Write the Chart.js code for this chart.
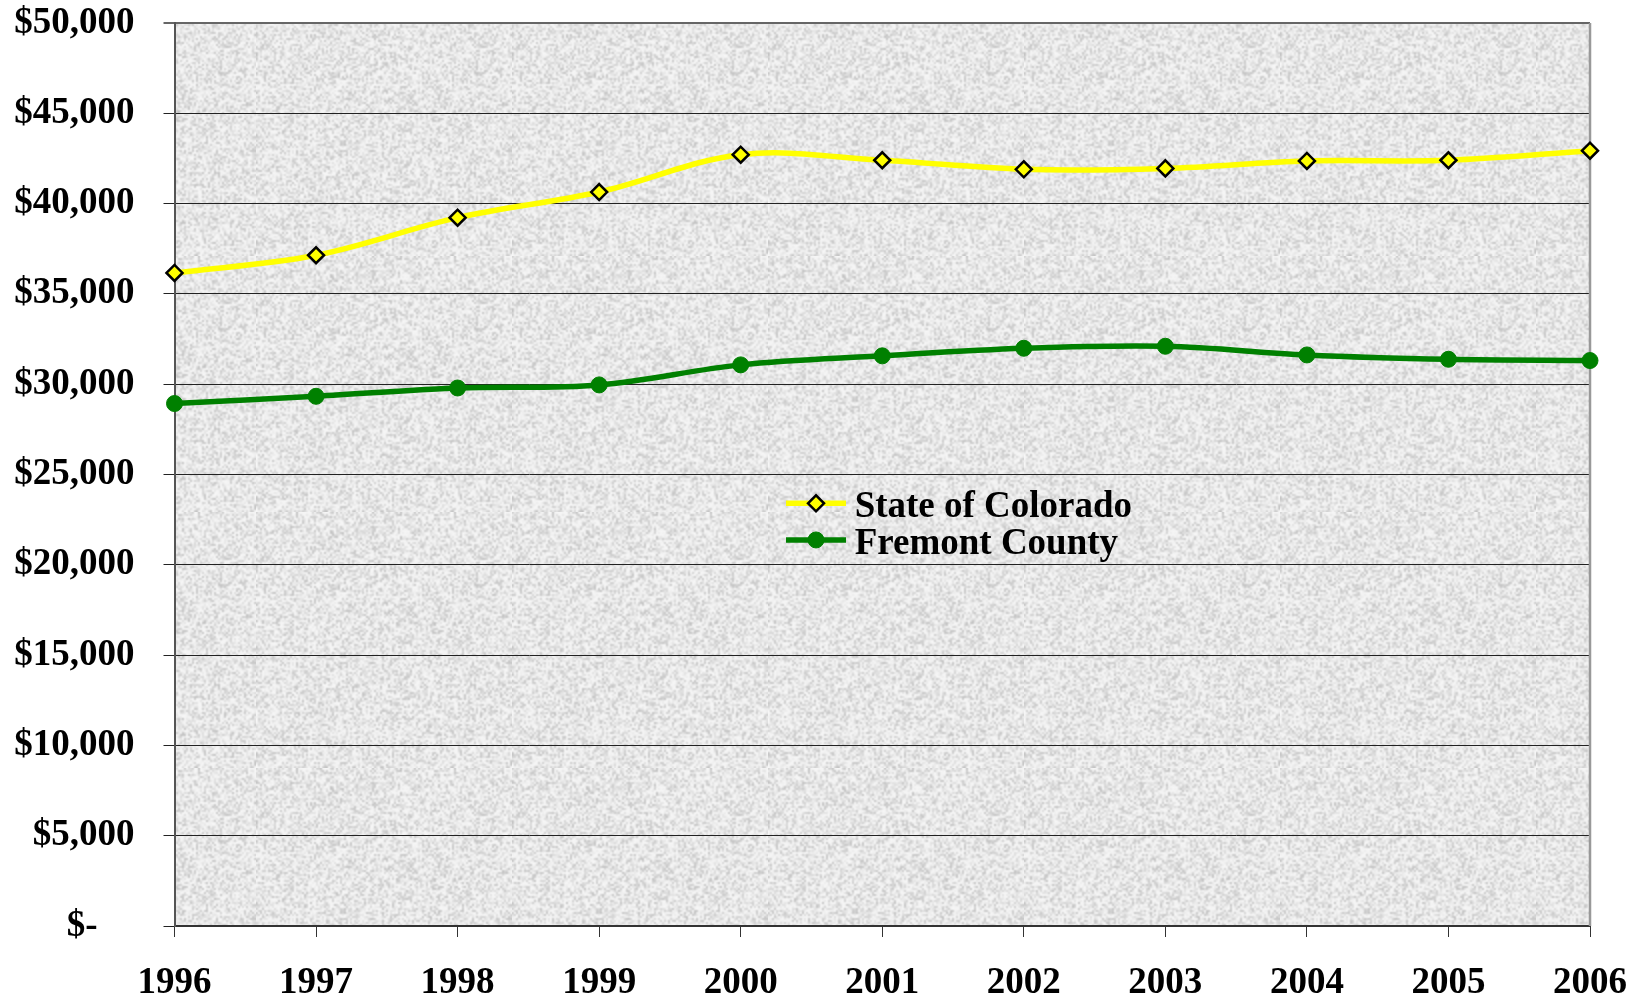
<!DOCTYPE html>
<html><head><meta charset="utf-8">
<script src="https://cdn.jsdelivr.net/npm/chart.js@4.4.1/dist/chart.umd.min.js"></script>
<style>html,body{margin:0;padding:0;background:#fff;}#wrap{width:1638px;height:1000px;position:relative;}</style>
</head><body><div id="wrap"><canvas id="c" width="1638" height="1000"></canvas></div>
<script>
const years = ['1996','1997','1998','1999','2000','2001','2002','2003','2004','2005','2006'];
const coloradoIncome = [36160, 37140, 39220, 40640, 42710, 42400, 41900, 41950, 42360, 42400, 42930];
const fremontIncome = [28930, 29330, 29790, 29960, 31070, 31570, 31990, 32100, 31620, 31380, 31310];
const seriesNames = ['State of Colorado', 'Fremont County'];
const yMin = 0, yMax = 50000, yStep = 5000;
const zeroLabel = '$-    ';

const FONT = "'Liberation Serif', 'Times New Roman', serif";

function makeTexture() {
  const N = 128;
  const small = document.createElement('canvas'); small.width = small.height = N;
  const g = small.getContext('2d'); const img = g.createImageData(N, N);
  let s = 98765;
  const rnd = () => { s = (s * 1103515245 + 12345) & 0x7fffffff; return s / 0x7fffffff; };
  for (let i = 0; i < N * N; i++) {
    const r = rnd();
    let v = 246 - r * r * 50;
    img.data[i*4] = img.data[i*4+1] = img.data[i*4+2] = v; img.data[i*4+3] = 255;
  }
  g.putImageData(img, 0, 0);
  const c = document.createElement('canvas'); c.width = c.height = N * 2;
  const g2 = c.getContext('2d');
  g2.imageSmoothingEnabled = true;
  g2.drawImage(small, 0, 0, N * 2, N * 2);
  return c;
}
const tex = makeTexture();

const plotPlugin = {
  id: 'plotDeco',
  beforeDraw(chart) {
    const { ctx, chartArea: a } = chart;
    ctx.save();
    ctx.fillStyle = ctx.createPattern(tex, 'repeat');
    ctx.fillRect(a.left, a.top, a.right - a.left, a.bottom - a.top);
    ctx.restore();
  },
  beforeDatasetsDraw(chart) {
    const { ctx, chartArea: a } = chart;
    ctx.save();
    ctx.strokeStyle = '#999'; ctx.lineWidth = 2.5;
    ctx.beginPath(); ctx.moveTo(a.right, a.top); ctx.lineTo(a.right, a.bottom); ctx.stroke();
    ctx.restore();
  },
  afterDatasetsDraw(chart) {
    const { ctx, chartArea: a } = chart;
    const w = a.right - a.left, h = a.bottom - a.top;
    const x0 = a.left + w * 0.432, x1 = a.left + w * 0.4744, tx = a.left + w * 0.4805;
    const rows = [a.top + h * 0.5319, a.top + h * 0.5725];
    ctx.save();
    chart.data.datasets.forEach((ds, i) => {
      const y = rows[i];
      ctx.strokeStyle = ds.borderColor; ctx.lineWidth = ds.borderWidth; ctx.lineCap = 'butt';
      ctx.beginPath(); ctx.moveTo(x0, y); ctx.lineTo(x1, y); ctx.stroke();
      ctx.fillStyle = ds.pointBackgroundColor; ctx.strokeStyle = ds.pointBorderColor;
      ctx.lineWidth = ds.pointBorderWidth;
      Chart.helpers.drawPoint(ctx, { pointStyle: ds.pointStyle, radius: ds.pointRadius, rotation: 0, borderWidth: ds.pointBorderWidth }, (x0 + x1) / 2, y);
      ctx.fillStyle = '#000'; ctx.font = 'bold 37px ' + FONT; ctx.textBaseline = 'alphabetic'; ctx.textAlign = 'left';
      ctx.fillText(ds.label, tx, y + 14);
    });
    ctx.restore();
  }
};

new Chart(document.getElementById('c'), {
  type: 'line',
  data: {
    labels: years,
    datasets: [
      { label: seriesNames[0], data: coloradoIncome, borderColor: '#ffff00', borderWidth: 5.5,
        pointStyle: 'rectRot', pointRadius: 8, pointBackgroundColor: '#ffff00', pointBorderColor: '#000', pointBorderWidth: 2.5,
        tension: 0.35, clip: false },
      { label: seriesNames[1], data: fremontIncome, borderColor: '#008000', borderWidth: 5.5,
        pointStyle: 'circle', pointRadius: 8, pointBackgroundColor: '#008000', pointBorderColor: '#008000', pointBorderWidth: 1,
        tension: 0.35, clip: false }
    ]
  },
  options: {
    responsive: false, animation: false, devicePixelRatio: 1,
    layout: { padding: { top: 23, right: 48, left: 0, bottom: 0 } },
    plugins: { legend: { display: false }, tooltip: { enabled: false } },
    scales: {
      x: {
        type: 'category', offset: false,
        grid: { drawOnChartArea: false, drawTicks: true, tickLength: 11, color: '#333', lineWidth: 1 },
        border: { color: '#333', width: 2 },
        ticks: { color: '#000', font: { family: FONT, size: 37, weight: 'bold' }, padding: 24, maxRotation: 0, autoSkip: false },
        afterFit(scale) { scale.height = 74; scale.paddingLeft = 0; scale.paddingRight = 0; }
      },
      y: {
        min: yMin, max: yMax,
        grid: { drawOnChartArea: true, drawTicks: true, tickLength: 11,
          color: (c) => c.tick && c.tick.value === yMax ? '#666' : '#222',
          lineWidth: (c) => c.tick && c.tick.value === yMax ? 2 : 1 },
        border: { color: '#555', width: 2 },
        ticks: { stepSize: yStep, color: '#000', font: { family: FONT, size: 37, weight: 'bold' }, padding: 29,
          callback: (v) => v === 0 ? zeroLabel : '$' + Number(v).toLocaleString('en-US') },
        afterFit(scale) { scale.width = 174.5; scale.paddingTop = 0; scale.paddingBottom = 0; }
      }
    }
  },
  plugins: [plotPlugin]
});
</script></body></html>
